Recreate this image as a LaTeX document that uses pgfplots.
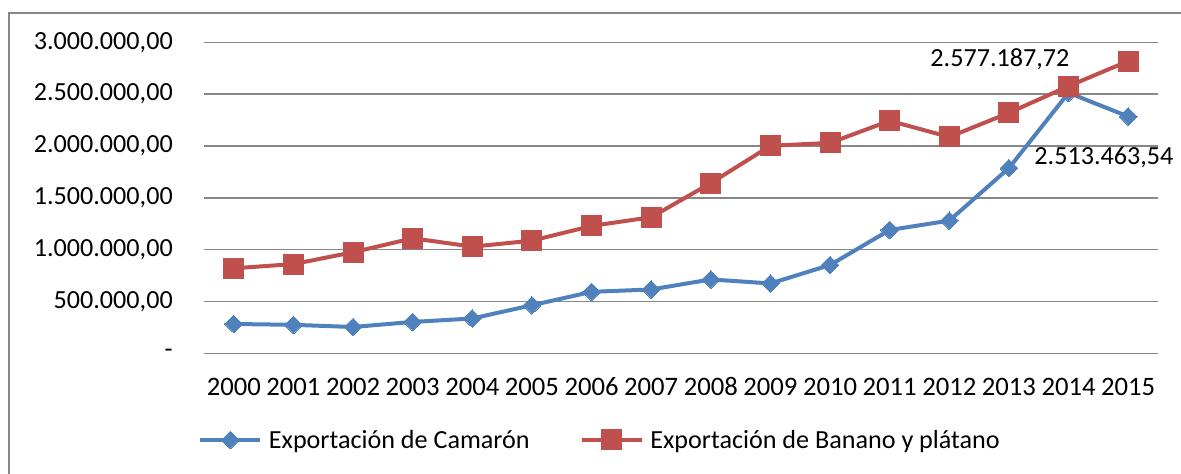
\documentclass[border=0pt]{standalone}
\usepackage{fontspec}
\setmainfont{Carlito}
\usepackage{pgfplots}
\pgfplotsset{compat=1.18}
\definecolor{cblue}{HTML}{4F81BD}
\definecolor{cred}{HTML}{C0504D}
\definecolor{cgrid}{HTML}{878787}

\pgfplotstableread{
year camaron banano
0  283000 820000
1  275000 861000
2  254000 975000
3  303000 1110000
4  336000 1029000
5  464000 1087000
6  593000 1229000
7  616000 1313000
8  713000 1642000
9  674000 2002000
10 852000 2030000
11 1190000 2243000
12 1280000 2087000
13 1787000 2320000
14 2513463.54 2577187.72
15 2284000 2819000
}\datatable

\begin{document}
\begin{tikzpicture}[font=\fontsize{19.6}{23}\selectfont]
\useasboundingbox (0,0) rectangle (885.75pt,355.5pt);
% chart frame (cut at right and bottom)
\draw[cgrid,line width=1.5pt] (6.75pt,-20pt) -- (6.75pt,345.75pt) -- (900pt,345.75pt);
\begin{axis}[
  at={(153pt,90.5pt)}, anchor=south west,
  scale only axis, width=715.5pt, height=233.25pt,
  xmin=-0.5, xmax=15.5, ymin=0, ymax=3000000,
  scaled y ticks=false,
  xtick={0,...,15},
  xticklabels={2000,2001,2002,2003,2004,2005,2006,2007,2008,2009,2010,2011,2012,2013,2014,2015},
  ytick={0,500000,1000000,1500000,2000000,2500000,3000000},
  yticklabels={-,{500.000,00},{1.000.000,00},{1.500.000,00},{2.000.000,00},{2.500.000,00},{3.000.000,00}},
  yticklabel style={anchor=east,inner sep=0pt,xshift=-23.25pt},
  xticklabel style={anchor=base,inner sep=0pt,yshift=-32pt,font=\fontsize{20}{24}\selectfont},
  ymajorgrids, grid style={cgrid,line width=1.2pt},
  axis line style={draw=none}, major tick length=0pt,
  clip=false,
  legend columns=2,
  legend cell align=left,
  legend style={draw=none,fill=none,at={(axis description cs:0,0)},anchor=west,
    xshift=-4.5pt,yshift=-65pt,inner sep=0pt,
    /tikz/every odd column/.append style={column sep=3pt},
    /tikz/every even column/.append style={column sep=35.5pt}},
  legend image code/.code={\draw[mark repeat=2,mark phase=2,#1] plot coordinates {(0pt,0pt) (22.5pt,0pt) (45pt,0pt)};},
]
\addplot[cblue,line width=3pt,mark=diamond*,mark size=6.6pt,
  mark options={solid,xscale=1.35,fill=cblue,draw=cblue,line width=0pt}]
  table[x=year,y=camaron] {\datatable};
\addplot[cred,line width=3pt,mark=square*,mark size=7.5pt,
  mark options={solid,fill=cred,draw=cred,line width=0pt}]
  table[x=year,y=banano] {\datatable};
\legend{Exportación de Camarón,Exportación de Banano y plátano}
\node[xshift=-51.5pt,yshift=20pt] at (axis cs:14,2577187.72) {2.577.187,72};
\node[xshift=26.5pt,yshift=-48.5pt] at (axis cs:14,2513463.54) {2.513.463,54};
\end{axis}
\end{tikzpicture}
\end{document}
